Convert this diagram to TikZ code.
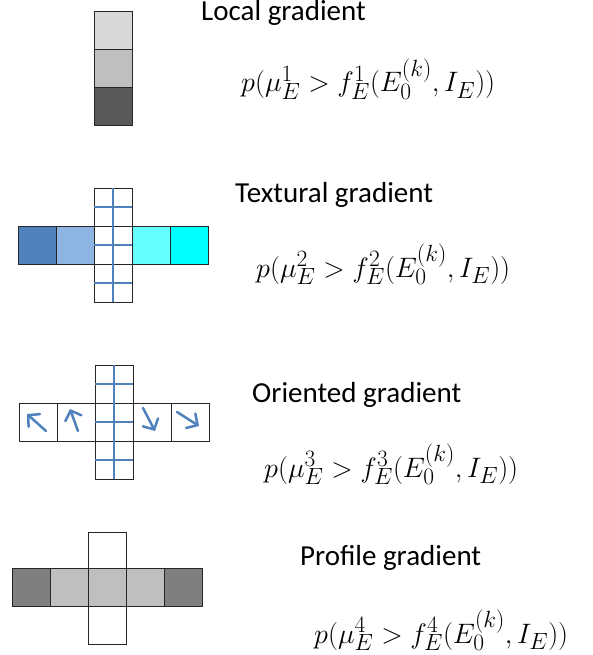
\documentclass[tikz,border=0pt]{standalone}
\usepackage{fontspec}
\setmainfont{Carlito}
\usetikzlibrary{arrows.meta}
\definecolor{gLight}{HTML}{D9D9D9}
\definecolor{gMid}{HTML}{BFBFBF}
\definecolor{gDark}{HTML}{595959}
\definecolor{gProf}{HTML}{7F7F7F}
\definecolor{bDark}{HTML}{4F81BD}
\definecolor{bLight}{HTML}{8EB4E3}
\definecolor{cLight}{HTML}{66FFFF}
\definecolor{cFull}{HTML}{00FFFF}
\tikzset{
  cell/.style={draw=black!85, line width=0.9pt},
  grid/.style={draw=bDark, line width=1.5pt},
  dir/.style={draw=bDark, line width=2.5pt, line cap=round,
    -{Straight Barb[length=8pt,width=17pt,line cap=round]}},
  label/.style={anchor=base west, inner sep=0pt, font=\fontsize{29}{34}\selectfont},
  formula/.style={anchor=base west, inner sep=0pt, transform shape, scale=1.13,
    font=\fontsize{24.88}{30}\selectfont}
}
\begin{document}
\begin{tikzpicture}[x=1pt,y=-1pt]
\useasboundingbox (0,0) rectangle (592,655);

% --- local gradient: a vertical strip of three pixels
\filldraw[cell, fill=gLight] (94,11) rectangle (132,49);
\filldraw[cell, fill=gMid]   (94,49) rectangle (132,87);
\filldraw[cell, fill=gDark]  (94,87) rectangle (132,125);
\node[label] (lbl1) at (201,21) {Local gradient};
\node[formula] (eq1) at (241,92) {$p(\mu_E^1 > f_E^1(E_0^{(k)}, I_E))$};

% --- textural gradient: cross of pixels with a sub-grid in the column
\filldraw[cell, fill=bDark]  (18,226)  rectangle (56,264);
\filldraw[cell, fill=bLight] (56,226)  rectangle (94,264);
\filldraw[cell, fill=cLight] (132,226) rectangle (170,264);
\filldraw[cell, fill=cFull]  (170,226) rectangle (208,264);
\draw[cell] (94,188) rectangle (132,226);
\draw[cell] (94,226) rectangle (132,264);
\draw[cell] (94,264) rectangle (132,302);
\draw[grid] (113,188) -- (113,302);
\foreach \y in {207,245,283} \draw[grid] (94,\y) -- (132,\y);
\node[label] (lbl2) at (235,202) {Textural gradient};
\node[formula] (eq2) at (256,277) {$p(\mu_E^2 > f_E^2(E_0^{(k)}, I_E))$};

% --- oriented gradient: cross with direction arrows in the row
\foreach \x in {19,57,133,171} \draw[cell] (\x,403) rectangle ++(38,38);
\draw[cell] (95,365) rectangle (133,403);
\draw[cell] (95,403) rectangle (133,441);
\draw[cell] (95,441) rectangle (133,479);
\draw[grid] (114,365) -- (114,479);
\foreach \y in {384,422,460} \draw[grid] (95,\y) -- (133,\y);
\coordinate (t1) at (46,431);  \coordinate (h1) at (27,414);
\coordinate (t2) at (78,431);  \coordinate (h2) at (70,409);
\coordinate (t4) at (143,408); \coordinate (h4) at (155,431);
\coordinate (t5) at (177,412); \coordinate (h5) at (199,426);
\draw[dir] (t1) -- (h1);
\draw[dir] (t2) -- (h2);
\draw[dir] (t4) -- (h4);
\draw[dir] (t5) -- (h5);
\node[label] (lbl3) at (252,402) {Oriented gradient};
\node[formula] (eq3) at (264,477) {$p(\mu_E^3 > f_E^3(E_0^{(k)}, I_E))$};

% --- profile gradient: cross of grey pixels
\filldraw[cell, fill=gProf] (12.5,568.5)  rectangle (50.5,606);
\filldraw[cell, fill=gMid]  (50.5,568.5)  rectangle (88.5,606);
\filldraw[cell, fill=gMid]  (88.5,568.5)  rectangle (126.5,606);
\filldraw[cell, fill=gMid]  (126.5,568.5) rectangle (164.5,606);
\filldraw[cell, fill=gProf] (164.5,568.5) rectangle (202.5,606);
\draw[cell] (88.5,532.5) rectangle (126.5,568.5);
\draw[cell] (88.5,606)   rectangle (126.5,644.5);
\node[label] (lbl4) at (300,565) {Profile gradient};
\node[formula] (eq4) at (314,643) {$p(\mu_E^4 > f_E^4(E_0^{(k)}, I_E))$};
\end{tikzpicture}
\end{document}
